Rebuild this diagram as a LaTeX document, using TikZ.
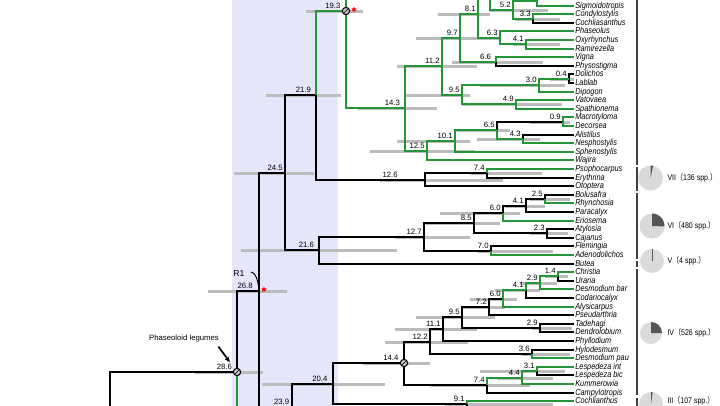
\documentclass[tikz,border=0pt]{standalone}
\usepackage{fontspec}
\setmainfont{Liberation Sans}
\newfontfamily\narrowsans[FakeStretch=0.85]{Liberation Sans}
\newfontfamily\cjk[FakeStretch=0.85]{Noto Sans CJK SC}
\usetikzlibrary{arrows.meta,shapes.geometric}

\definecolor{bandblue}{RGB}{230,230,250}
\definecolor{brgreen}{RGB}{35,150,55}
\definecolor{hpdgray}{RGB}{188,188,188}
\definecolor{piegray}{RGB}{218,218,218}
\definecolor{piedark}{RGB}{85,85,85}

\tikzset{every picture/.style={line width=0.75pt}}
\tikzset{
  br/.style={line width=1.5pt,black},
  gbr/.style={line width=1.5pt,brgreen},
  hpd/.style={line width=2.25pt,hpdgray},
  grpbar/.style={line width=1.1pt,black!75},
  tip/.style={anchor=west,inner sep=0.6pt,text height=4.6pt,text depth=1.3pt,font=\narrowsans\fontsize{6.5}{6.5}\selectfont\itshape},
  agelab/.style={anchor=south east,inner sep=1.4pt,font=\fontsize{5.8}{5.8}\selectfont},
  pielab/.style={anchor=west,inner sep=0pt,font=\narrowsans\fontsize{6.2}{6.2}\selectfont},
  calib/.style={circle,draw,line width=0.8pt,fill=gray!45,minimum size=5.5pt,inner sep=0pt,
    path picture={\draw[line width=0.4pt] (path picture bounding box.south west) -- (path picture bounding box.north east);}},
  redstar/.style={star,star points=5,star point ratio=2.2,fill=red,draw=none,inner sep=0pt,minimum size=4.5pt},
  pointer/.style={line width=1.3pt,-{Stealth[length=4pt,width=3.5pt]}},
}

\begin{document}
\begin{tikzpicture}[x=0.75pt,y=0.75pt,yscale=-1,xscale=1]
  \useasboundingbox (0,0) rectangle (720,405);

  % time window
  \fill[bandblue] (232,-2) rectangle (338,407);

  % node positions
  \coordinate (tX) at (574,-3);
  \coordinate (nX) at (537,1);
  \coordinate (n33) at (533,19);
  \coordinate (n52) at (513,10);
  \coordinate (nY) at (490,-10);
  \coordinate (n81) at (478,14);
  \coordinate (n63) at (500,38);
  \coordinate (n41a) at (526,44);
  \coordinate (n97) at (460,38);
  \coordinate (n66) at (496,62);
  \coordinate (n112) at (442,66);
  \coordinate (n04) at (569,79);
  \coordinate (n30) at (539,85);
  \coordinate (n49) at (516,104);
  \coordinate (n95a) at (462,95);
  \coordinate (n143) at (405,108);
  \coordinate (n09) at (563,122);
  \coordinate (n43) at (523,139);
  \coordinate (n65) at (497,130);
  \coordinate (n101) at (455,141);
  \coordinate (n125) at (427,151);
  \coordinate (n193) at (346,11);
  \coordinate (up193) at (346,-10);
  \coordinate (n74a) at (487,173);
  \coordinate (n126) at (425,180);
  \coordinate (n219) at (316,95);
  \coordinate (n25) at (545,199);
  \coordinate (n41b) at (526,206);
  \coordinate (n60a) at (503,213);
  \coordinate (n23) at (547,233);
  \coordinate (n85) at (474,223);
  \coordinate (n70) at (491,251);
  \coordinate (n127) at (424,237);
  \coordinate (n216) at (319,250);
  \coordinate (n245) at (285,173);
  \coordinate (n268) at (259,291);
  \coordinate (n286) at (237,372);
  \coordinate (lo286) at (237,412);
  \coordinate (nroot) at (110,412);
  \coordinate (n239) at (292,409);
  \coordinate (lo239) at (292,415);
  \coordinate (n14) at (558,276);
  \coordinate (n29a) at (540,283);
  \coordinate (n41c) at (526,290);
  \coordinate (n60b) at (503,299);
  \coordinate (n72) at (489,307);
  \coordinate (n29b) at (540,328);
  \coordinate (n95b) at (462,317);
  \coordinate (n111) at (443,329);
  \coordinate (n36) at (532,354);
  \coordinate (n122) at (430,342);
  \coordinate (n31) at (537,371);
  \coordinate (n44) at (522,378);
  \coordinate (n74b) at (487,385);
  \coordinate (n144) at (404,363);
  \coordinate (n91) at (467,404);
  \coordinate (lo91) at (467,412);
  \coordinate (n204) at (333,384);

  % 95% HPD bars
  \draw[hpd] (306,0 |- n193) -- (363,0 |- n193);
  \draw[hpd] (266,0 |- n219) -- (341,0 |- n219);
  \draw[hpd] (234,0 |- n245) -- (314,0 |- n245);
  \draw[hpd] (241,0 |- n216) -- (397,0 |- n216);
  \draw[hpd] (208,0 |- n268) -- (287,0 |- n268);
  \draw[hpd] (195,0 |- n286) -- (263,0 |- n286);
  \draw[hpd] (262,0 |- n204) -- (385,0 |- n204);
  \draw[hpd] (363,0 |- n144) -- (430,0 |- n144);
  \draw[hpd] (385,0 |- n122) -- (468,0 |- n122);
  \draw[hpd] (395,0 |- n111) -- (477,0 |- n111);
  \draw[hpd] (416,0 |- n95b) -- (495,0 |- n95b);
  \draw[hpd] (462,0 |- n72) -- (505,0 |- n72);
  \draw[hpd] (470,0 |- n60b) -- (517,0 |- n60b);
  \draw[hpd] (495,0 |- n41c) -- (540,0 |- n41c);
  \draw[hpd] (520,0 |- n29a) -- (557,0 |- n29a);
  \draw[hpd] (545,0 |- n14) -- (568,0 |- n14);
  \draw[hpd] (532,0 |- n29b) -- (572,0 |- n29b);
  \draw[hpd] (522,0 |- n36) -- (570,0 |- n36);
  \draw[hpd] (430,0 |- n74b) -- (530,0 |- n74b);
  \draw[hpd] (497,0 |- n44) -- (553,0 |- n44);
  \draw[hpd] (480,0 |- n31) -- (565,0 |- n31);
  \draw[hpd] (445,0 |- n91) -- (553,0 |- n91);
  \draw[hpd] (395,0 |- n127) -- (470,0 |- n127);
  \draw[hpd] (425,0 |- n85) -- (500,0 |- n85);
  \draw[hpd] (440,0 |- n60a) -- (520,0 |- n60a);
  \draw[hpd] (505,0 |- n41b) -- (545,0 |- n41b);
  \draw[hpd] (530,0 |- n25) -- (570,0 |- n25);
  \draw[hpd] (530,0 |- n23) -- (568,0 |- n23);
  \draw[hpd] (478,0 |- n70) -- (553,0 |- n70);
  \draw[hpd] (380,0 |- n126) -- (503,0 |- n126);
  \draw[hpd] (470,0 |- n74a) -- (542,0 |- n74a);
  \draw[hpd] (358,0 |- n143) -- (437,0 |- n143);
  \draw[hpd] (397,0 |- n112) -- (477,0 |- n112);
  \draw[hpd] (416,0 |- n97) -- (478,0 |- n97);
  \draw[hpd] (438,0 |- n81) -- (490,0 |- n81);
  \draw[hpd] (490,0 |- n52) -- (548,0 |- n52);
  \draw[hpd] (515,0 |- n33) -- (560,0 |- n33);
  \draw[hpd] (460,0 |- n63) -- (500,0 |- n63);
  \draw[hpd] (513,0 |- n41a) -- (560,0 |- n41a);
  \draw[hpd] (452,0 |- n66) -- (543,0 |- n66);
  \draw[hpd] (480,0 |- n30) -- (565,0 |- n30);
  \draw[hpd] (550,0 |- n04) -- (574,0 |- n04);
  \draw[hpd] (405,0 |- n95a) -- (470,0 |- n95a);
  \draw[hpd] (462,0 |- n49) -- (562,0 |- n49);
  \draw[hpd] (530,0 |- n09) -- (570,0 |- n09);
  \draw[hpd] (455,0 |- n65) -- (510,0 |- n65);
  \draw[hpd] (477,0 |- n43) -- (540,0 |- n43);
  \draw[hpd] (397,0 |- n101) -- (470,0 |- n101);
  \draw[hpd] (370,0 |- n125) -- (475,0 |- n125);

  % taxa
  \node[tip] (t0) at (574,6) {Sigmoidotropis};
  \node[tip] (t1) at (574,14) {Condylostylis};
  \node[tip] (t2) at (574,23) {Cochliasanthus};
  \node[tip] (t3) at (574,31) {Phaseolus};
  \node[tip] (t4) at (574,40) {Oxyrhynchus};
  \node[tip] (t5) at (574,49) {Ramirezella};
  \node[tip] (t6) at (574,57) {Vigna};
  \node[tip] (t7) at (574,66) {Physostigma};
  \node[tip] (t8) at (574,74) {Dolichos};
  \node[tip] (t9) at (574,83) {Lablab};
  \node[tip] (t10) at (574,92) {Dipogon};
  \node[tip] (t11) at (574,100) {Vatovaea};
  \node[tip] (t12) at (574,109) {Spathionema};
  \node[tip] (t13) at (574,117) {Macrotyloma};
  \node[tip] (t14) at (574,126) {Decorsea};
  \node[tip] (t15) at (574,135) {Alistilus};
  \node[tip] (t16) at (574,143) {Nesphostylis};
  \node[tip] (t17) at (574,152) {Sphenostylis};
  \node[tip] (t18) at (574,160) {Wajira};
  \node[tip] (t19) at (574,169) {Psophocarpus};
  \node[tip] (t20) at (574,178) {Erythrina};
  \node[tip] (t21) at (574,186) {Otoptera};
  \node[tip] (t22) at (574,195) {Bolusafra};
  \node[tip] (t23) at (574,203) {Rhynchosia};
  \node[tip] (t24) at (574,212) {Paracalyx};
  \node[tip] (t25) at (574,221) {Eriosema};
  \node[tip] (t26) at (574,229) {Atylosia};
  \node[tip] (t27) at (574,238) {Cajanus};
  \node[tip] (t28) at (574,246) {Flemingia};
  \node[tip] (t29) at (574,255) {Adenodolichos};
  \node[tip] (t30) at (574,264) {Butea};
  \node[tip] (t31) at (574,272) {Christia};
  \node[tip] (t32) at (574,281) {Uraria};
  \node[tip] (t33) at (574,289) {Desmodium bar};
  \node[tip] (t34) at (574,298) {Codariocalyx};
  \node[tip] (t35) at (574,307) {Alysicarpus};
  \node[tip] (t36) at (574,315) {Pseudarthria};
  \node[tip] (t37) at (574,324) {Tadehagi};
  \node[tip] (t38) at (574,332) {Dendrolobium};
  \node[tip] (t39) at (574,341) {Phyllodium};
  \node[tip] (t40) at (574,350) {Hylodesmum};
  \node[tip] (t41) at (574,358) {Desmodium pau};
  \node[tip] (t42) at (574,367) {Lespedeza int};
  \node[tip] (t43) at (574,375) {Lespedeza bic};
  \node[tip] (t44) at (574,384) {Kummerowia};
  \node[tip] (t45) at (574,393) {Campylotropis};
  \node[tip] (t46) at (574,401) {Cochlianthus};

  % black branches
  \draw[br] (n33) |- (t2.west);
  \draw[br] (n66) |- (t7.west);
  \draw[br] (n04) |- (t8.west) (n04) |- (t9.west);
  \draw[br] (n65) |- (n09);
  \draw[br] (n43) |- (t15.west);
  \draw[br] (n219) |- (n126);
  \draw[br] (n126) |- (n74a) (n126) |- (t21.west);
  \draw[br] (n74a) |- (t20.west);
  \draw[br] (n245) |- (n219) (n245) |- (n216);
  \draw[br] (n216) |- (n127) (n216) |- (t30.west);
  \draw[br] (n127) |- (n85) (n127) |- (n70);
  \draw[br] (n85) |- (n60a) (n85) |- (n23);
  \draw[br] (n60a) |- (n41b);
  \draw[br] (n41b) |- (n25) (n41b) |- (t24.west);
  \draw[br] (n25) |- (t22.west);
  \draw[br] (n23) |- (t26.west) (n23) |- (t27.west);
  \draw[br] (n70) |- (t28.west);
  \draw[br] (n268) |- (n245) (n268) |- (n239);
  \draw[br] (n286) |- (n268);
  \draw[br] (nroot) |- (n286);
  \draw[br] (n239) |- (n204) (n239) -- (lo239);
  \draw[br] (n204) |- (n144) (n204) |- (n91);
  \draw[br] (n91) -- (lo91);
  \draw[br] (n144) |- (n122) (n144) |- (n74b);
  \draw[br] (n122) |- (n111) (n122) |- (n36);
  \draw[br] (n111) |- (n95b) (n111) |- (t39.west);
  \draw[br] (n95b) |- (n72) (n95b) |- (n29b);
  \draw[br] (n72) |- (n60b) (n72) |- (t36.west);
  \draw[br] (n41c) |- (t34.west);
  \draw[br] (n14) |- (t32.west);
  \draw[br] (n29b) |- (t37.west) (n29b) |- (t38.west);
  \draw[br] (n36) |- (t40.west);
  \draw[br] (n74b) |- (t45.west);
  \draw[br] (n31) |- (t43.west);

  % green branches
  \draw[gbr] (nX) |- (tX) (nX) |- (t0.west);
  \draw[gbr] (n52) |- (nX) (n52) |- (n33);
  \draw[gbr] (n33) |- (t1.west);
  \draw[gbr] (nY) |- (n52);
  \draw[gbr] (n81) |- (nY) (n81) |- (n63);
  \draw[gbr] (n63) |- (t3.west) (n63) |- (n41a);
  \draw[gbr] (n41a) |- (t4.west) (n41a) |- (t5.west);
  \draw[gbr] (n97) |- (n81) (n97) |- (n66);
  \draw[gbr] (n66) |- (t6.west);
  \draw[gbr] (n112) |- (n97) (n112) |- (n95a);
  \draw[gbr] (n95a) |- (n30) (n95a) |- (n49);
  \draw[gbr] (n30) |- (n04) (n30) |- (t10.west);
  \draw[gbr] (n49) |- (t11.west) (n49) |- (t12.west);
  \draw[gbr] (n143) |- (n112) (n143) |- (n125);
  \draw[gbr] (n125) |- (n101) (n125) |- (t18.west);
  \draw[gbr] (n101) |- (n65) (n101) |- (t17.west);
  \draw[gbr] (n65) |- (n43);
  \draw[gbr] (n09) |- (t13.west) (n09) |- (t14.west);
  \draw[gbr] (n43) |- (t16.west);
  \draw[gbr] (n193) -- (up193) (n193) |- (n143);
  \draw[gbr] (n219) |- (n193);
  \draw[gbr] (n74a) |- (t19.west);
  \draw[gbr] (n60a) |- (t25.west);
  \draw[gbr] (n25) |- (t23.west);
  \draw[gbr] (n70) |- (t29.west);
  \draw[gbr] (n286) -- (lo286);
  \draw[gbr] (n91) |- (t46.west);
  \draw[gbr] (n60b) |- (n41c) (n60b) |- (t35.west);
  \draw[gbr] (n41c) |- (n29a);
  \draw[gbr] (n29a) |- (n14) (n29a) |- (t33.west);
  \draw[gbr] (n14) |- (t31.west);
  \draw[gbr] (n36) |- (t41.west);
  \draw[gbr] (n74b) |- (n44);
  \draw[gbr] (n44) |- (n31) (n44) |- (t44.west);
  \draw[gbr] (n31) |- (t42.west);

  % calibration points and stars
  \node[calib] (c193) at (n193) {};
  \node[calib] (c286) at (n286) {};
  \node[calib] (c144) at (n144) {};
  \node[redstar] (s193) at (354,9.5) {};
  \node[redstar] (s268) at (264,289.5) {};

  % node ages
  \node[agelab] (l193) at ([xshift=-2.5pt]n193) {19.3};
  \node[agelab] (l219) at ([xshift=-2pt]n219) {21.9};
  \node[agelab] (l245) at (n245) {24.5};
  \node[agelab] (l216) at ([xshift=-2pt]n216) {21.6};
  \node[agelab] (l268) at ([xshift=-3pt]n268) {26.8};
  \node[agelab] (l286) at ([xshift=-2pt]n286) {28.6};
  \node[agelab,inner sep=0.3pt] (l239) at (290,405) {23.9};
  \node[agelab] (l204) at ([xshift=-2.5pt]n204) {20.4};
  \node[agelab] (l144) at ([xshift=-2.5pt]n144) {14.4};
  \node[agelab] (l143) at ([xshift=-2pt]n143) {14.3};
  \node[agelab] (l125) at (n125) {12.5};
  \node[agelab] (l126) at (400,180) {12.6};
  \node[agelab] (l127) at (n127) {12.7};
  \node[agelab] (l122) at (n122) {12.2};
  \node[agelab] (l112) at (n112) {11.2};
  \node[agelab] (l111) at (n111) {11.1};
  \node[agelab] (l101) at (n101) {10.1};
  \node[agelab] (l97) at (n97) {9.7};
  \node[agelab] (l95a) at (n95a) {9.5};
  \node[agelab] (l95b) at (n95b) {9.5};
  \node[agelab] (l91) at (n91) {9.1};
  \node[agelab] (l85) at (n85) {8.5};
  \node[agelab] (l81) at (n81) {8.1};
  \node[agelab] (l74a) at (n74a) {7.4};
  \node[agelab] (l74b) at (n74b) {7.4};
  \node[agelab] (l72) at (n72) {7.2};
  \node[agelab] (l70) at (n70) {7.0};
  \node[agelab] (l66) at ([xshift=-2pt]n66) {6.6};
  \node[agelab] (l65) at (n65) {6.5};
  \node[agelab] (l63) at (n63) {6.3};
  \node[agelab] (l60a) at (n60a) {6.0};
  \node[agelab] (l60b) at (n60b) {6.0};
  \node[agelab] (l52) at (n52) {5.2};
  \node[agelab] (l49) at (n49) {4.9};
  \node[agelab] (l44) at (n44) {4.4};
  \node[agelab] (l43) at (n43) {4.3};
  \node[agelab] (l41a) at (n41a) {4.1};
  \node[agelab] (l41b) at (n41b) {4.1};
  \node[agelab] (l41c) at (n41c) {4.1};
  \node[agelab] (l36) at (n36) {3.6};
  \node[agelab] (l33) at (n33) {3.3};
  \node[agelab] (l31) at (n31) {3.1};
  \node[agelab] (l30) at (n30) {3.0};
  \node[agelab] (l29a) at (n29a) {2.9};
  \node[agelab] (l29b) at (n29b) {2.9};
  \node[agelab] (l25) at (n25) {2.5};
  \node[agelab] (l23) at (n23) {2.3};
  \node[agelab] (l14) at (n14) {1.4};
  \node[agelab] (l09) at (n09) {0.9};
  \node[agelab] (l04) at (n04) {0.4};

  % annotations
  \node[font=\fontsize{6.5}{6.5}\selectfont] (r1) at (239,274) {R1};
  \draw[line width=0.7pt] ([shift={(1pt,-1.5pt)}]r1.east) .. controls +(7,1) and +(0,-6) .. ([yshift=2pt]n268);
  \node[font=\fontsize{5.8}{5.8}\selectfont] (phl) at (184,338) {Phaseoloid legumes};
  \draw[pointer,shorten >=6pt] ([xshift=-4pt]phl.south east) -- (c286);

  % group bars
  \draw[grpbar] (637,-5) -- (637,164.5);
  \draw[grpbar] (637,167) -- (637,190.5);
  \draw[grpbar] (637,193) -- (637,258.5);
  \draw[grpbar] (637,261) -- (637,266.5);
  \draw[grpbar] (637,269) -- (637,394.5);
  \draw[grpbar] (637,397.5) -- (637,410);

  % pies
  \coordinate (pVII) at (650.5,178);
  \coordinate (pVI) at (652,226);
  \coordinate (pV) at (652,261);
  \coordinate (pIV) at (651,333);
  \coordinate (pIII) at (651,404);
  \fill[piegray] (pVII) circle (12.5);
  \fill[piedark] (pVII) -- ++(-90:12.5) arc[start angle=-90,end angle=-78,radius=12.5] -- cycle;
  \fill[piegray] (pVI) circle (12.5);
  \fill[piedark] (pVI) -- ++(-90:12.5) arc[start angle=-90,end angle=2,radius=12.5] -- cycle;
  \fill[piegray] (pV) circle (12);
  \draw[piedark,line width=0.5pt] (pV) -- ++(-90:12);
  \fill[piegray] (pIV) circle (11);
  \fill[piedark] (pIV) -- ++(-90:11) arc[start angle=-90,end angle=0,radius=11] -- cycle;
  \fill[piegray] (pIII) circle (12);
  \fill[piedark] (pIII) -- ++(-90:12) arc[start angle=-90,end angle=-82,radius=12] -- cycle;

  \node[pielab] (g7) at (667,178) {VII{\cjk （}136 spp.{\cjk ）}};
  \node[pielab] (g6) at (667,226) {VI{\cjk （}480 spp.{\cjk ）}};
  \node[pielab] (g5) at (667,261) {V{\cjk （}4 spp.{\cjk ）}};
  \node[pielab] (g4) at (667,333) {IV{\cjk （}526 spp.{\cjk ）}};
  \node[pielab] (g3) at (667,401) {III{\cjk （}107 spp.{\cjk ）}};

\end{tikzpicture}
\end{document}
